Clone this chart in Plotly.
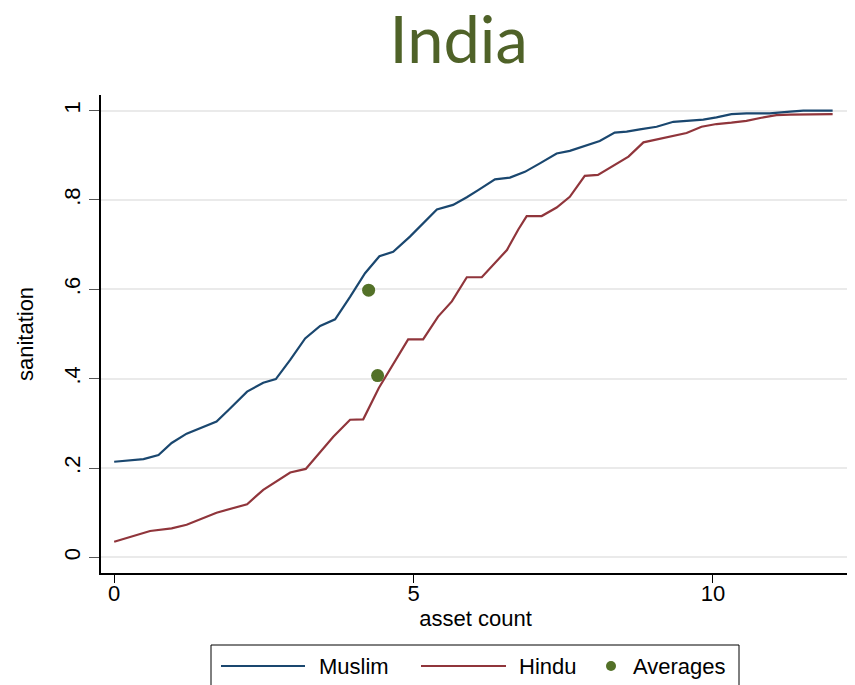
import plotly.graph_objects as go

# Muslim curve (asset count vs share with sanitation)
muslim_x = [0, 0.49, 0.74, 0.96, 1.21, 1.44, 1.71, 1.91, 2.22, 2.49, 2.70, 2.94, 3.19, 3.44,
            3.69, 3.94, 4.19, 4.43, 4.66, 4.94, 5.39, 5.66, 5.89, 6.08, 6.36, 6.61, 6.86, 7.11,
            7.39, 7.61, 7.86, 8.11, 8.36, 8.56, 8.78, 9.06, 9.34, 9.62, 9.84, 10.06, 10.31,
            10.56, 10.95, 11.29, 11.51, 12.0]
muslim_y = [0.214, 0.220, 0.229, 0.256, 0.277, 0.289, 0.304, 0.330, 0.371, 0.391, 0.399, 0.442,
            0.490, 0.518, 0.533, 0.583, 0.636, 0.674, 0.684, 0.718, 0.779, 0.789, 0.806, 0.822,
            0.846, 0.850, 0.863, 0.882, 0.904, 0.910, 0.921, 0.932, 0.951, 0.953, 0.958, 0.964,
            0.975, 0.977, 0.980, 0.985, 0.992, 0.994, 0.994, 0.998, 1.0, 1.0]

# Hindu curve
hindu_x = [0, 0.32, 0.60, 0.96, 1.21, 1.71, 2.22, 2.49, 2.94, 3.20, 3.66, 3.94, 4.16, 4.42,
           4.66, 4.91, 5.16, 5.41, 5.64, 5.89, 6.14, 6.56, 6.75, 6.89, 7.14, 7.39, 7.61, 7.86,
           8.08, 8.34, 8.59, 8.84, 9.09, 9.34, 9.56, 9.81, 10.06, 10.31, 10.56, 10.81, 11.06,
           11.29, 12.0]
hindu_y = [0.035, 0.048, 0.059, 0.065, 0.073, 0.100, 0.119, 0.151, 0.190, 0.198, 0.270, 0.308,
           0.309, 0.379, 0.434, 0.488, 0.488, 0.539, 0.573, 0.627, 0.627, 0.688, 0.734, 0.764,
           0.764, 0.783, 0.807, 0.854, 0.856, 0.876, 0.897, 0.929, 0.936, 0.943, 0.950, 0.964,
           0.970, 0.973, 0.977, 0.984, 0.990, 0.991, 0.992]

# group averages (Muslim, Hindu)
avg_x = [4.25, 4.40]
avg_y = [0.598, 0.407]

y_ticks = [0, 0.2, 0.4, 0.6, 0.8, 1]
y_labels = ["0", ".2", ".4", ".6", ".8", "1"]
x_ticks = [0, 5, 10]

BLUE = "#1a476f"
RED = "#90353b"
GREEN = "#537128"

# the page body has an 8px margin, so the figure is 8px smaller than the window
OFF = 8
W, H = 855 - OFF, 685 - OFF
ML, MR, MT, MB = 101 - OFF, 5, 95 - OFF, 112

# window pixel -> paper helpers, used for the hand drawn legend box
def px(x):
    return (x - OFF - ML) / (W - ML - MR)

def py(y):
    return (H - MB - (y - OFF)) / (H - MT - MB)

fig = go.Figure()
fig.add_trace(go.Scatter(x=muslim_x, y=muslim_y, mode="lines", name="Muslim",
                         line=dict(color=BLUE, width=2.2)))
fig.add_trace(go.Scatter(x=hindu_x, y=hindu_y, mode="lines", name="Hindu",
                         line=dict(color=RED, width=2.2)))
fig.add_trace(go.Scatter(x=avg_x, y=avg_y, mode="markers", name="Averages",
                         marker=dict(color=GREEN, size=13)))

axis_font = dict(family="Liberation Sans, Arial, sans-serif", size=22, color="#000000")

# legend (Stata style: long line keys, boxed, below the plot)
shapes = [
    dict(type="rect", xref="paper", yref="paper", x0=px(211), x1=px(739), y0=py(692), y1=py(645),
         line=dict(color="#000000", width=1), fillcolor="white", layer="above"),
    dict(type="line", xref="paper", yref="paper", x0=px(221), x1=px(305), y0=py(666), y1=py(666),
         line=dict(color=BLUE, width=2.2)),
    dict(type="line", xref="paper", yref="paper", x0=px(421), x1=px(506), y0=py(666), y1=py(666),
         line=dict(color=RED, width=2.2)),
    dict(type="circle", xref="paper", yref="paper", x0=px(606), x1=px(616), y0=py(671), y1=py(661),
         line=dict(color=GREEN, width=0), fillcolor=GREEN),
]
legend_font = dict(family="Liberation Sans, Arial, sans-serif", size=22, color="#000000")
annotations = [
    dict(text=name, xref="paper", yref="paper", x=px(x0), y=py(666), xanchor="left",
         yanchor="middle", showarrow=False, font=legend_font)
    for name, x0 in [("Muslim", 317), ("Hindu", 517), ("Averages", 631)]
]

fig.update_layout(
    width=W, height=H,
    margin=dict(l=ML, r=MR, t=MT, b=MB),
    paper_bgcolor="white", plot_bgcolor="white",
    showlegend=False,
    title=dict(text="India", x=0.532, xanchor="center", y=1 - 32 / H, yanchor="middle",
               yref="container",
               font=dict(family="Lato, Carlito, sans-serif", size=65, color="#4f6228")),
    font=axis_font,
    xaxis=dict(range=[-0.22, 12.29], tickvals=x_ticks, showgrid=False, zeroline=False,
               showline=True, linecolor="#000000", linewidth=1.5, automargin=False,
               ticks="outside", ticklen=8, tickcolor="#000000", tickwidth=1,
               tickfont=axis_font, ticklabelstandoff=-8,
               title=dict(text="asset count", font=axis_font, standoff=4)),
    yaxis=dict(range=[-0.035, 1.035], tickvals=y_ticks, ticktext=y_labels, tickangle=-90,
               showgrid=True, gridcolor="#eaeaea", gridwidth=1.5, zeroline=False,
               showline=True, linecolor="#000000", linewidth=1.5, automargin=False,
               ticks="outside", ticklen=10, tickcolor="#555555", tickwidth=1,
               tickfont=axis_font,
               title=dict(text="sanitation", font=axis_font, standoff=21)),
    shapes=shapes,
    annotations=annotations,
)

fig.write_html("out.html")
